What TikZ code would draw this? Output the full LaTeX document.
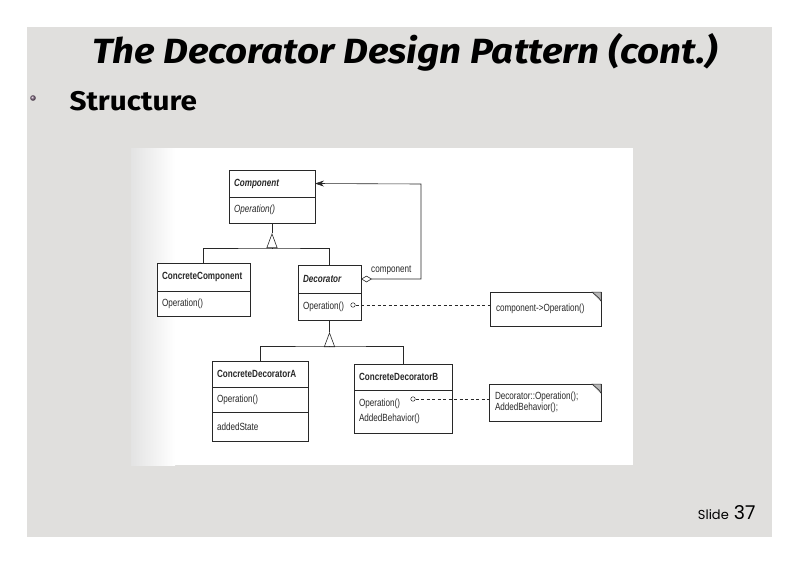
\documentclass[tikz,border=0pt]{standalone}
\usepackage{fontspec}
\usetikzlibrary{positioning,arrows.meta,shadings}
\setmainfont{Liberation Sans}
\newfontfamily\umlfont{Liberation Sans}[FakeStretch=0.78]
\newfontfamily\titlefont{Fira Sans}[FakeStretch=1.1]
\newfontfamily\slidefont{Poppins}
\newcommand\umltext{\umlfont\fontsize{10.4}{15}\selectfont}
\definecolor{slidegray}{RGB}{224,223,221}
\definecolor{ink}{RGB}{40,40,40}

\tikzset{
  cls/.style={draw=ink,line width=0.6pt,fill=white,font=\umltext,text=ink,
    align=left,inner xsep=5pt,inner ysep=0pt,outer sep=0pt,anchor=north west},
  head/.style={cls,font=\umltext\bfseries},
  notebox/.style={cls,inner xsep=6pt},
  opdot/.style={circle,draw=ink,line width=0.5pt,fill=white,inner sep=0pt,minimum size=4.5pt},
  ln/.style={draw=ink,line width=0.6pt},
  inh/.style={ln,-{Triangle[open,length=15pt,width=11pt]}},
  aggr/.style={ln,{Diamond[open,length=11pt,width=6.5pt]}-{Stealth[length=9pt,width=6pt]}},
  link/.style={ln,line width=0.5pt,dash pattern=on 3pt off 2.5pt},
}

\begin{document}
\begin{tikzpicture}[x=1pt,y=-1pt]
\useasboundingbox (0,0) rectangle (800,565);
\fill[white] (0,0) rectangle (800,565);
\fill[slidegray] (27,27) rectangle (772,537);

% slide text
\node[font=\titlefont\fontsize{35}{35}\selectfont\bfseries\itshape] (title) at (405,52)
  {The Decorator Design Pattern (cont.)};
\shade[ball color=gray!80!violet] (33,98) circle (2.8pt);
\node[anchor=west,font=\titlefont\fontsize{27}{27}\selectfont\bfseries] (struct) at (66,101) {Structure};
\node[anchor=base east,font=\slidefont\fontsize{19}{19}\selectfont] (slideno) at (759,519)
  {{\fontsize{13}{13}\selectfont Slide} 37};

% scanned figure
\fill[white] (131,148) rectangle (633,465);
\shade[left color=gray!22,right color=white] (131,148) rectangle (175,465);

% classes
\node[head,text width=76pt,minimum height=27pt] (comphead) at (229,170) {\itshape Component};
\node[cls,text width=76pt,minimum height=26pt,below=0pt of comphead] (compops) {\itshape Operation()};

\node[head,text width=83pt,minimum height=28pt] (cchead) at (157,263) {ConcreteComponent};
\node[cls,text width=83pt,minimum height=25pt,below=0pt of cchead] (ccops) {Operation()};

\node[head,text width=53pt,minimum height=28pt] (dechead) at (298,265) {\itshape Decorator};
\node[cls,text width=53pt,minimum height=27pt,below=0pt of dechead] (decops) {Operation()};

\node[head,text width=86pt,minimum height=26pt] (cdahead) at (212,361) {ConcreteDecoratorA};
\node[cls,text width=86pt,minimum height=25pt,below=0pt of cdahead] (cdaops) {Operation()};
\node[cls,text width=86pt,minimum height=29pt,below=0pt of cdaops] (cdastate) {addedState};

\node[head,text width=88pt,minimum height=26pt] (cdbhead) at (354,364) {ConcreteDecoratorB};
\node[cls,text width=88pt,minimum height=43pt,below=0pt of cdbhead] (cdbops) {Operation()\\AddedBehavior()};

% notes
\node[notebox,text width=99pt,minimum height=34pt] (note1) at (490,292) {component->Operation()};
\node[notebox,text width=100pt,minimum height=37pt,font=\umlfont\fontsize{10.4}{11.5}\selectfont] (note2) at (489,384)
  {Decorator::Operation();\\AddedBehavior();};
\foreach \n in {note1,note2}{
  \draw[ln,line width=0.5pt,fill=gray!55] ([xshift=-9pt]\n.north east) -- (\n.north east) -- ([yshift=-9pt]\n.north east) -- cycle;
  \draw[ln,line width=0.5pt,fill=white] ([xshift=-9pt]\n.north east) -- ([xshift=-2pt,yshift=-6pt]\n.north east) -- ([yshift=-9pt]\n.north east);
}

% operation markers
\node[opdot] (dot1) at (353,305) {};
\node[opdot] (dot2) at (413,399) {};
\draw[link] (dot1) -- (dot1 -| note1.west);
\draw[link] (dot2) -- (dot2 -| note2.west);

% inheritance
\coordinate[below=10pt of compops] (gen1);
\coordinate[below=15pt of gen1] (bus1);
\draw[ln] (compops.south) -- (gen1);
\draw[inh] (bus1) -- (gen1);
\draw[ln] (cchead.north) |- (bus1) -| (dechead.north);

\coordinate[below=12pt of decops] (gen2);
\coordinate[below=14pt of gen2] (bus2);
\draw[ln] (decops.south) -- (gen2);
\draw[inh] (bus2) -- (gen2);
\draw[ln] (cdahead.north) |- (bus2) -| (cdbhead.north);

% aggregation
\coordinate (bend) at (421,184);
\draw[aggr] (dechead.east) -| (bend) -- (comphead.east);
\node[anchor=south west,font=\umltext,text=ink,inner sep=0pt] (role) at (371,275) {component};
\end{tikzpicture}
\end{document}
